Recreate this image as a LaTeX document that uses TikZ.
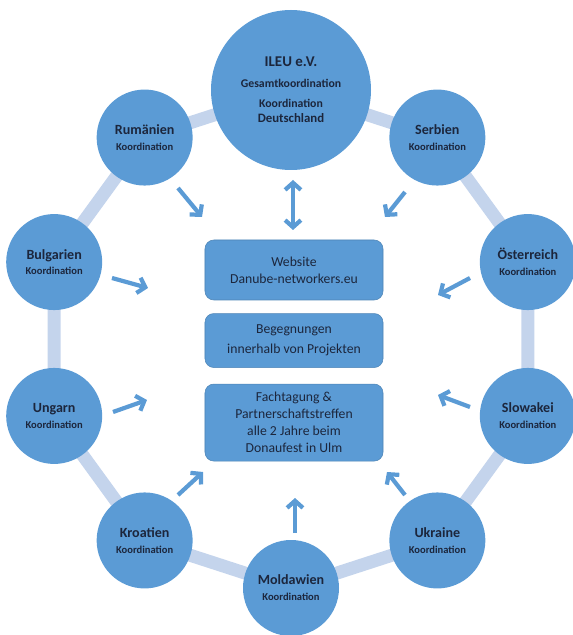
\documentclass[tikz,border=0pt]{standalone}
\usepackage{fontspec}
\setmainfont{Carlito}
\usetikzlibrary{arrows.meta,positioning}
\definecolor{nodeblue}{RGB}{91,155,213}
\definecolor{ringblue}{RGB}{196,212,236}
\definecolor{textnavy}{RGB}{28,38,60}
\tikzset{
    land/.style={circle, fill=nodeblue, minimum size=1.92cm, inner sep=0pt, align=center,
        text=textnavy, font=\fontsize{8}{9}\selectfont\bfseries},
    zentrale/.style={land, minimum size=3.2cm},
    info/.style={rectangle, rounded corners=5pt, fill=nodeblue, draw=nodeblue!85!black,
        line width=0.3pt, minimum width=3.56cm, align=center, text=textnavy,
        font=\fontsize{7.8}{9.6}\selectfont},
    flow/.style={draw=nodeblue, line width=2.4pt, -{Straight Barb[length=4pt,width=9pt]}},
    flowboth/.style={flow, {Straight Barb[length=4pt,width=9pt]}-{Straight Barb[length=4pt,width=9pt]}},
    ring/.style={draw=ringblue, line width=0.26cm},
}
\newcommand{\koord}{\\{\fontsize{6}{7}\selectfont Koordination}}

\begin{document}
\begin{tikzpicture}
    % fix the page size
    \useasboundingbox (-5.82,-5.92) rectangle (5.64,6.78);

    % points on the ring
    \foreach \a [count=\i] in {90,54,18,-18,-54,-90,-126,-162,162,126}
        \coordinate (p\i) at (\a:4.98);

    % draw the ring
    \draw[ring] (p1) \foreach \i in {2,...,10}{ -- (p\i)} -- cycle;

    % the partners
    \node[zentrale] (ileu) at (p1) {{\fontsize{8.5}{10}\selectfont ILEU e.V.}\\[3pt]
        {\fontsize{6.7}{7}\selectfont Gesamtkoordination}\\[2pt]
        {\fontsize{6.7}{6.8}\selectfont Koordination}\\{\fontsize{7.3}{7.5}\selectfont Deutschland}};
    \node[land] (serb) at (p2) {Serbien\koord};
    \node[land] (oest) at (p3) {Österreich\koord};
    \node[land] (slow) at (p4) {Slowakei\koord};
    \node[land] (ukr) at (p5) {Ukraine\koord};
    \node[land] (mold) at (p6) {Moldawien\koord};
    \node[land] (kroa) at (p7) {Kroatien\koord};
    \node[land] (ung) at (p8) {Ungarn\koord};
    \node[land] (bulg) at (p9) {Bulgarien\koord};
    \node[land] (rum) at (p10) {Rumänien\koord};

    % the boxes in the middle
    \node[info, minimum height=1.2cm] (web) at (0.06,1.38) {Website\\Danube-networkers.eu};
    \node[info, minimum height=1.08cm, below=0.26cm of web] (beg) {Begegnungen\\[2pt]innerhalb von Projekten};
    \node[info, minimum height=1.54cm, below=0.32cm of beg] (fach) {Fachtagung \&\\Partnerschaftstreffen\\alle 2 Jahre beim\\Donaufest in Ulm};

    % arrow ends
    \coordinate (rumA) at (-2.26,3.02);  \coordinate (rumB) at (-1.78,2.44);
    \coordinate (ileuA) at (0.04,3.18);  \coordinate (ileuB) at (0.04,2.18);
    \coordinate (serbA) at (2.28,2.94);  \coordinate (serbB) at (1.88,2.44);
    \coordinate (bulgA) at (-3.58,1.22); \coordinate (bulgB) at (-2.86,1.02);
    \coordinate (oestA) at (3.58,1.22);  \coordinate (oestB) at (2.94,0.88);
    \coordinate (ungA) at (-3.56,-1.46); \coordinate (ungB) at (-2.88,-1.22);
    \coordinate (slowA) at (3.58,-1.36); \coordinate (slowB) at (2.94,-1.12);
    \coordinate (kroaA) at (-2.26,-3.12); \coordinate (kroaB) at (-1.76,-2.66);
    \coordinate (ukrA) at (2.28,-3.12);  \coordinate (ukrB) at (1.92,-2.66);
    \coordinate (moldA) at (0.08,-3.88); \coordinate (moldB) at (0.08,-3.18);

    % draw the arrows
    \draw[flowboth] (ileuA) -- (ileuB);
    \foreach \n in {rum,serb,bulg,oest,ung,slow,kroa,ukr,mold}
        \draw[flow] (\n A) -- (\n B);
\end{tikzpicture}
\end{document}
